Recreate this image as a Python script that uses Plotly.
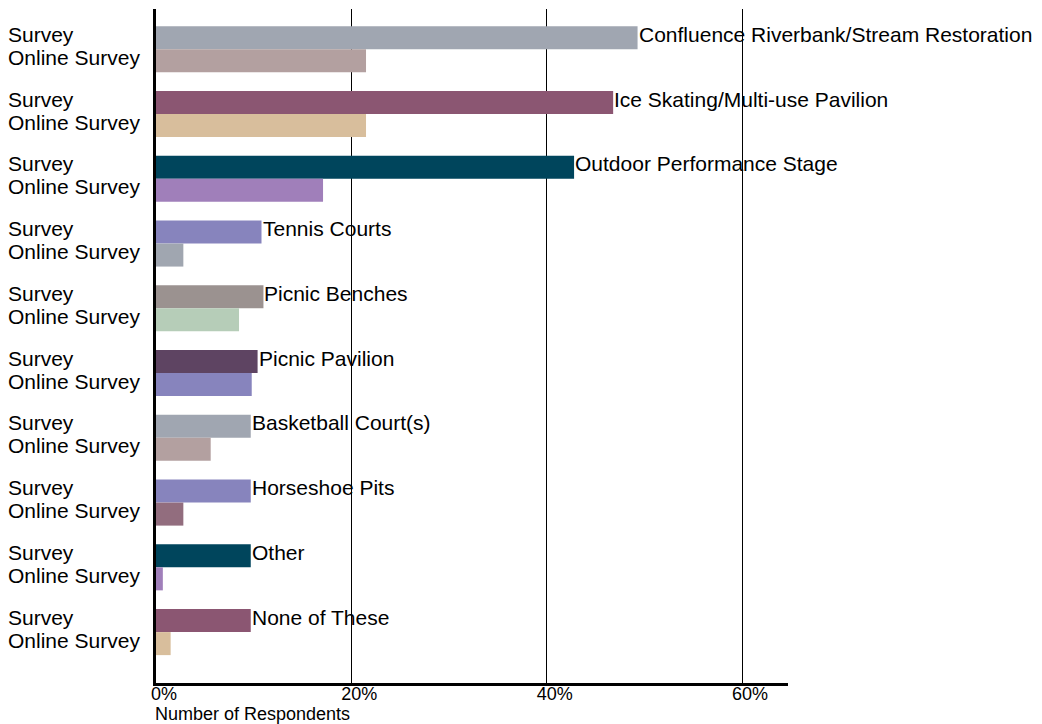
import plotly.graph_objects as go

categories = [
    "Confluence Riverbank/Stream Restoration",
    "Ice Skating/Multi-use Pavilion",
    "Outdoor Performance Stage",
    "Tennis Courts",
    "Picnic Benches",
    "Picnic Pavilion",
    "Basketball Court(s)",
    "Horseshoe Pits",
    "Other",
    "None of These",
]
survey_values = [49.3, 46.8, 42.8, 10.8, 11.0, 10.4, 9.7, 9.7, 9.7, 9.7]
online_values = [21.5, 21.5, 17.1, 2.8, 8.5, 9.8, 5.6, 2.8, 0.7, 1.5]

survey_colors = ["#A0A6B1", "#8B5672", "#00455C", "#8784BD", "#9B9290",
                 "#5E4462", "#A0A6B1", "#8784BD", "#00455C", "#8B5672"]
online_colors = ["#B3A0A0", "#D8BE9C", "#A07FBA", "#A0A6B0", "#B6CDB8",
                 "#8784BD", "#B3A0A0", "#926D7E", "#A07FBA", "#D8BE9C"]

tick_vals = [0, 20, 40, 60]
tick_text = ["0%", "20%", "40%", "60%"]
series_names = ["Survey", "Online Survey"]
x_title = "Number of Respondents"

FONT = "Liberation Sans, Arial, sans-serif"

fig = go.Figure()
fig.add_trace(go.Bar(
    y=categories, x=survey_values, orientation="h", name=series_names[0],
    marker=dict(color=survey_colors, line=dict(width=0)), showlegend=False,
))
fig.add_trace(go.Bar(
    y=categories, x=online_values, orientation="h", name=series_names[1],
    marker=dict(color=online_colors, line=dict(width=0)), showlegend=False,
))

annotations = []
L, R, T, B = 156, 254, 9, 41
plot_w = 1042 - L - R
for cat, sv in zip(categories, survey_values):
    annotations.append(dict(
        x=sv, y=cat, xref="x", yref="y", text=cat, showarrow=False,
        xanchor="left", yanchor="middle", yshift=15, xshift=-1,
        font=dict(family=FONT, size=21, color="#000000"),
    ))
    annotations.append(dict(
        x=(6 - L) / plot_w, y=cat, xref="paper", yref="y", text=series_names[0],
        showarrow=False, xanchor="left", yanchor="middle", yshift=15,
        font=dict(family=FONT, size=21, color="#000000"),
    ))
    annotations.append(dict(
        x=(6 - L) / plot_w, y=cat, xref="paper", yref="y", text=series_names[1],
        showarrow=False, xanchor="left", yanchor="middle", yshift=-8,
        font=dict(family=FONT, size=21, color="#000000"),
    ))
annotations.append(dict(
    x=0, y=0, xref="paper", yref="paper", text=x_title, showarrow=False,
    xanchor="left", yanchor="middle", yshift=-31, xshift=-3,
    font=dict(family=FONT, size=18, color="#000000"),
))

fig.update_layout(
    width=1042, height=724,
    margin=dict(l=L, r=R, t=T, b=B, pad=0),
    paper_bgcolor="white", plot_bgcolor="white",
    barmode="group", bargap=0.289, bargroupgap=0,
    font=dict(family=FONT, size=18, color="#000000"),
    annotations=annotations,
    xaxis=dict(
        range=[0, 64.7], tickvals=tick_vals, ticktext=tick_text,
        showgrid=True, gridcolor="#000000", gridwidth=1,
        zeroline=False, showline=True, linecolor="#000000", linewidth=3,
        ticks="", ticklabelshift=8, ticklabelstandoff=-8,
        tickfont=dict(family=FONT, size=18, color="#000000"),
        fixedrange=True,
    ),
    yaxis=dict(
        range=[9.786, -0.622], showticklabels=False, ticks="",
        showgrid=False, zeroline=False, showline=True,
        linecolor="#000000", linewidth=3, fixedrange=True,
    ),
)

fig.write_html(
    "out.html",
    config={"displayModeBar": False},
    post_script="document.body.style.margin='0';document.body.style.padding='0';",
)
